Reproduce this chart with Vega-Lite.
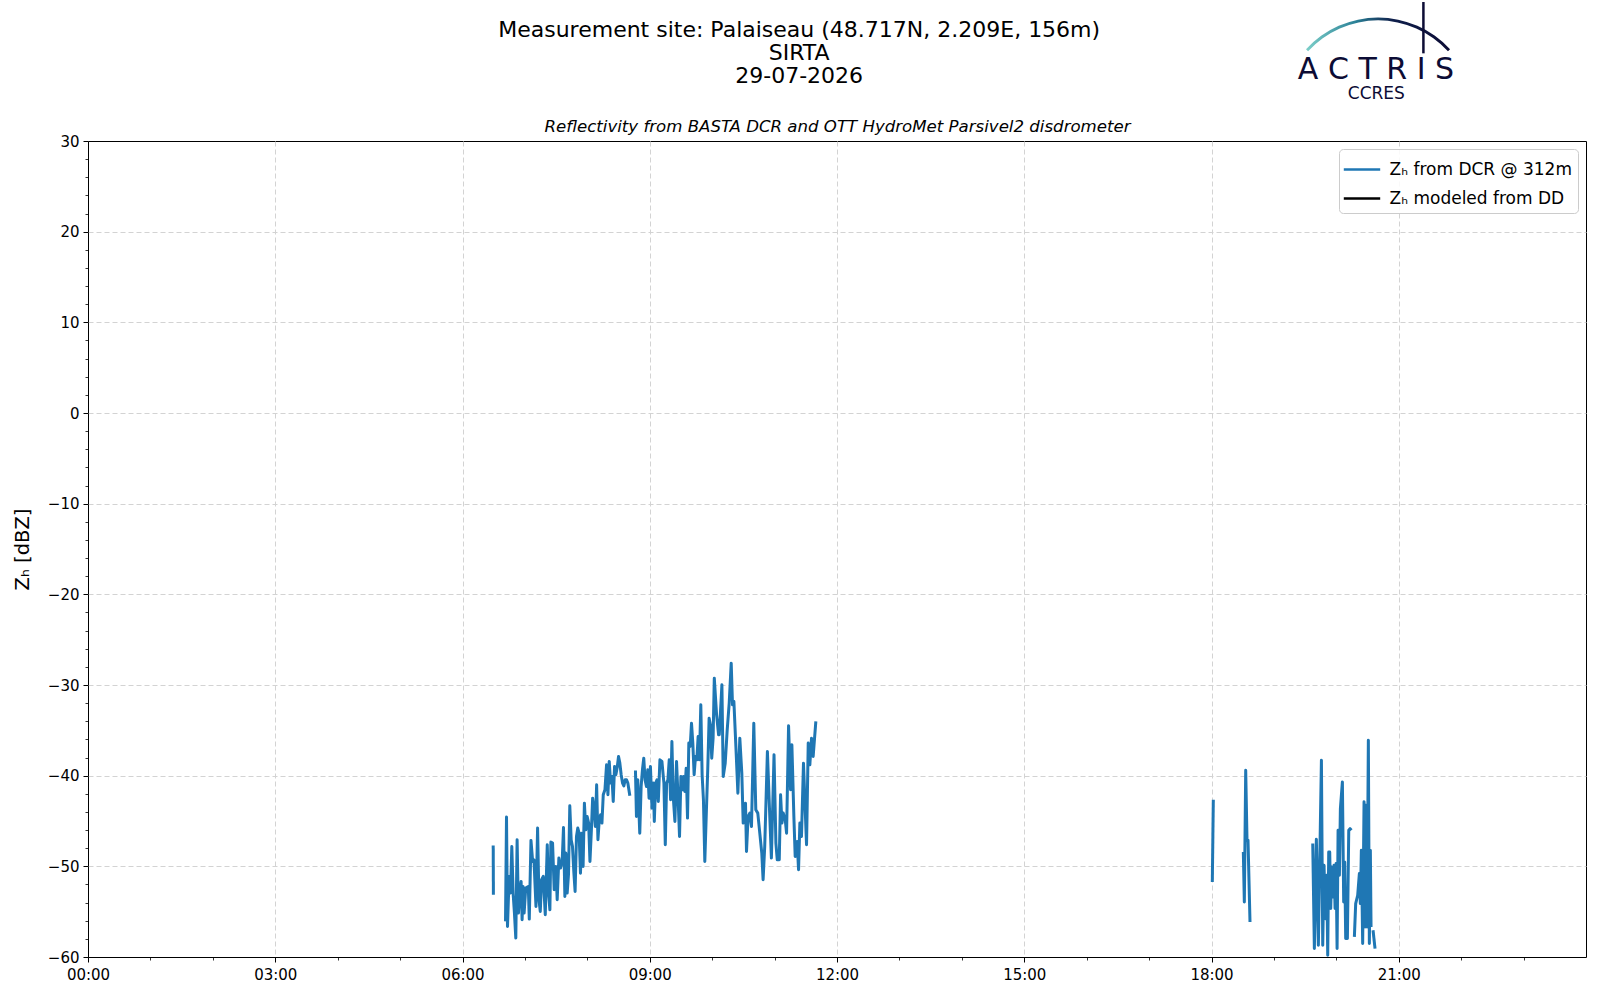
{
  "$schema": "https://vega.github.io/schema/vega-lite/v6.json",
  "width": 1498,
  "height": 816,
  "autosize": {"type": "none"},
  "padding": {"left": 88, "top": 141, "right": 14, "bottom": 43},
  "background": "white",
  "title": {
    "text": ["Measurement site: Palaiseau (48.717N, 2.209E, 156m)", "SIRTA", "29-07-2026"],
    "anchor": "middle",
    "frame": "bounds",
    "font": "DejaVu Sans",
    "fontSize": 22,
    "fontWeight": "normal",
    "lineHeight": 23,
    "color": "black",
    "offset": -87
  },
  "config": {
    "font": "DejaVu Sans",
    "view": {"stroke": "black", "strokeWidth": 1},
    "axis": {
      "labelFont": "DejaVu Sans",
      "labelFontSize": 15,
      "labelColor": "black",
      "labelFlush": false,
      "labelOverlap": false,
      "tickColor": "black",
      "tickSize": 5,
      "tickWidth": 1,
      "labelPadding": 5,
      "domain": false,
      "titleFont": "DejaVu Sans",
      "titleFontWeight": "normal",
      "titleColor": "black"
    }
  },
  "datasets": {
    "dcr": [
      {"t": 6.492, "z": -47.70, "seg": 1}, {"t": 6.495, "z": -53.13, "seg": 1},
      {"t": 6.689, "z": -56.07, "seg": 2}, {"t": 6.705, "z": -44.57, "seg": 2}, {"t": 6.721, "z": -56.63, "seg": 2},
      {"t": 6.747, "z": -51.11, "seg": 2}, {"t": 6.769, "z": -52.95, "seg": 2}, {"t": 6.790, "z": -47.81, "seg": 2},
      {"t": 6.811, "z": -52.95, "seg": 2}, {"t": 6.832, "z": -55.16, "seg": 2}, {"t": 6.854, "z": -57.91, "seg": 2},
      {"t": 6.875, "z": -47.07, "seg": 2}, {"t": 6.896, "z": -55.16, "seg": 2}, {"t": 6.917, "z": -52.95, "seg": 2},
      {"t": 6.939, "z": -51.66, "seg": 2}, {"t": 6.955, "z": -55.89, "seg": 2}, {"t": 6.971, "z": -52.22, "seg": 2},
      {"t": 6.987, "z": -55.16, "seg": 2}, {"t": 7.013, "z": -52.40, "seg": 2}, {"t": 7.054, "z": -52.22, "seg": 2},
      {"t": 7.070, "z": -55.82, "seg": 2}, {"t": 7.097, "z": -47.14, "seg": 2}, {"t": 7.124, "z": -49.46, "seg": 2},
      {"t": 7.145, "z": -49.28, "seg": 2}, {"t": 7.177, "z": -54.42, "seg": 2}, {"t": 7.203, "z": -45.78, "seg": 2},
      {"t": 7.225, "z": -53.69, "seg": 2}, {"t": 7.246, "z": -54.97, "seg": 2}, {"t": 7.267, "z": -51.48, "seg": 2},
      {"t": 7.294, "z": -51.11, "seg": 2}, {"t": 7.326, "z": -55.34, "seg": 2}, {"t": 7.358, "z": -47.62, "seg": 2},
      {"t": 7.379, "z": -52.95, "seg": 2}, {"t": 7.400, "z": -54.79, "seg": 2}, {"t": 7.416, "z": -47.33, "seg": 2},
      {"t": 7.443, "z": -47.44, "seg": 2}, {"t": 7.469, "z": -52.58, "seg": 2}, {"t": 7.496, "z": -50.01, "seg": 2},
      {"t": 7.517, "z": -53.69, "seg": 2}, {"t": 7.544, "z": -49.09, "seg": 2}, {"t": 7.570, "z": -50.19, "seg": 2},
      {"t": 7.597, "z": -49.46, "seg": 2}, {"t": 7.618, "z": -45.71, "seg": 2}, {"t": 7.640, "z": -53.32, "seg": 2},
      {"t": 7.655, "z": -48.54, "seg": 2}, {"t": 7.677, "z": -52.95, "seg": 2}, {"t": 7.698, "z": -50.93, "seg": 2},
      {"t": 7.719, "z": -43.32, "seg": 2}, {"t": 7.741, "z": -47.07, "seg": 2}, {"t": 7.762, "z": -47.81, "seg": 2},
      {"t": 7.783, "z": -50.56, "seg": 2}, {"t": 7.804, "z": -52.77, "seg": 2}, {"t": 7.826, "z": -46.70, "seg": 2},
      {"t": 7.847, "z": -45.78, "seg": 2}, {"t": 7.868, "z": -46.34, "seg": 2}, {"t": 7.890, "z": -50.75, "seg": 2},
      {"t": 7.911, "z": -46.34, "seg": 2}, {"t": 7.932, "z": -50.01, "seg": 2}, {"t": 7.953, "z": -43.03, "seg": 2},
      {"t": 7.975, "z": -45.97, "seg": 2}, {"t": 7.996, "z": -44.50, "seg": 2}, {"t": 8.021, "z": -45.23, "seg": 2},
      {"t": 8.042, "z": -49.46, "seg": 2}, {"t": 8.064, "z": -46.15, "seg": 2}, {"t": 8.085, "z": -42.48, "seg": 2},
      {"t": 8.106, "z": -43.58, "seg": 2}, {"t": 8.128, "z": -45.60, "seg": 2}, {"t": 8.149, "z": -41.01, "seg": 2},
      {"t": 8.170, "z": -47.07, "seg": 2}, {"t": 8.191, "z": -44.87, "seg": 2}, {"t": 8.213, "z": -44.31, "seg": 2},
      {"t": 8.234, "z": -45.23, "seg": 2}, {"t": 8.255, "z": -42.11, "seg": 2}, {"t": 8.282, "z": -41.56, "seg": 2},
      {"t": 8.308, "z": -38.80, "seg": 2}, {"t": 8.330, "z": -42.11, "seg": 2}, {"t": 8.351, "z": -38.43, "seg": 2},
      {"t": 8.372, "z": -40.82, "seg": 2}, {"t": 8.394, "z": -40.09, "seg": 2}, {"t": 8.415, "z": -42.84, "seg": 2},
      {"t": 8.436, "z": -38.99, "seg": 2}, {"t": 8.457, "z": -39.90, "seg": 2}, {"t": 8.479, "z": -39.06, "seg": 2},
      {"t": 8.500, "z": -37.88, "seg": 2}, {"t": 8.521, "z": -38.62, "seg": 2}, {"t": 8.542, "z": -39.90, "seg": 2},
      {"t": 8.564, "z": -40.82, "seg": 2}, {"t": 8.585, "z": -41.12, "seg": 2}, {"t": 8.606, "z": -40.46, "seg": 2},
      {"t": 8.628, "z": -40.46, "seg": 2}, {"t": 8.649, "z": -40.82, "seg": 2}, {"t": 8.681, "z": -42.22, "seg": 2},
      {"t": 8.771, "z": -39.43, "seg": 3}, {"t": 8.787, "z": -44.50, "seg": 3}, {"t": 8.808, "z": -40.46, "seg": 3},
      {"t": 8.840, "z": -46.34, "seg": 3}, {"t": 8.862, "z": -41.19, "seg": 3}, {"t": 8.883, "z": -39.35, "seg": 3},
      {"t": 8.904, "z": -38.07, "seg": 3}, {"t": 8.925, "z": -40.46, "seg": 3}, {"t": 8.947, "z": -41.19, "seg": 3},
      {"t": 8.968, "z": -39.35, "seg": 3}, {"t": 8.989, "z": -42.48, "seg": 3}, {"t": 9.011, "z": -38.99, "seg": 3},
      {"t": 9.036, "z": -43.58, "seg": 3}, {"t": 9.057, "z": -40.82, "seg": 3}, {"t": 9.073, "z": -45.05, "seg": 3},
      {"t": 9.094, "z": -40.82, "seg": 3}, {"t": 9.116, "z": -40.46, "seg": 3}, {"t": 9.137, "z": -42.84, "seg": 3},
      {"t": 9.163, "z": -38.25, "seg": 3}, {"t": 9.195, "z": -38.43, "seg": 3}, {"t": 9.227, "z": -40.82, "seg": 3},
      {"t": 9.249, "z": -47.62, "seg": 3}, {"t": 9.270, "z": -40.82, "seg": 3}, {"t": 9.291, "z": -40.46, "seg": 3},
      {"t": 9.312, "z": -38.25, "seg": 3}, {"t": 9.334, "z": -42.66, "seg": 3}, {"t": 9.355, "z": -36.23, "seg": 3},
      {"t": 9.376, "z": -42.29, "seg": 3}, {"t": 9.403, "z": -45.05, "seg": 3}, {"t": 9.429, "z": -38.43, "seg": 3},
      {"t": 9.456, "z": -42.84, "seg": 3}, {"t": 9.477, "z": -46.70, "seg": 3}, {"t": 9.499, "z": -40.09, "seg": 3},
      {"t": 9.520, "z": -41.56, "seg": 3}, {"t": 9.541, "z": -40.09, "seg": 3}, {"t": 9.562, "z": -41.74, "seg": 3},
      {"t": 9.584, "z": -39.17, "seg": 3}, {"t": 9.605, "z": -44.68, "seg": 3}, {"t": 9.626, "z": -36.41, "seg": 3},
      {"t": 9.648, "z": -36.78, "seg": 3}, {"t": 9.669, "z": -34.21, "seg": 3}, {"t": 9.690, "z": -36.41, "seg": 3},
      {"t": 9.711, "z": -39.90, "seg": 3}, {"t": 9.733, "z": -37.88, "seg": 3}, {"t": 9.754, "z": -38.25, "seg": 3},
      {"t": 9.775, "z": -35.68, "seg": 3}, {"t": 9.796, "z": -38.25, "seg": 3}, {"t": 9.818, "z": -32.19, "seg": 3},
      {"t": 9.839, "z": -39.90, "seg": 3}, {"t": 9.860, "z": -42.66, "seg": 3}, {"t": 9.882, "z": -49.46, "seg": 3},
      {"t": 9.908, "z": -43.76, "seg": 3}, {"t": 9.929, "z": -39.35, "seg": 3}, {"t": 9.951, "z": -33.66, "seg": 3},
      {"t": 9.972, "z": -34.39, "seg": 3}, {"t": 9.993, "z": -38.07, "seg": 3}, {"t": 10.015, "z": -35.86, "seg": 3},
      {"t": 10.034, "z": -29.25, "seg": 3}, {"t": 10.071, "z": -33.29, "seg": 3}, {"t": 10.103, "z": -35.49, "seg": 3},
      {"t": 10.114, "z": -35.49, "seg": 3}, {"t": 10.156, "z": -29.98, "seg": 3}, {"t": 10.177, "z": -40.09, "seg": 3},
      {"t": 10.209, "z": -38.62, "seg": 3}, {"t": 10.241, "z": -34.94, "seg": 3}, {"t": 10.273, "z": -32.00, "seg": 3},
      {"t": 10.305, "z": -27.59, "seg": 3}, {"t": 10.326, "z": -32.19, "seg": 3}, {"t": 10.348, "z": -31.82, "seg": 3},
      {"t": 10.380, "z": -36.78, "seg": 3}, {"t": 10.412, "z": -41.93, "seg": 3}, {"t": 10.443, "z": -35.86, "seg": 3},
      {"t": 10.475, "z": -39.72, "seg": 3}, {"t": 10.497, "z": -45.23, "seg": 3}, {"t": 10.534, "z": -43.03, "seg": 3},
      {"t": 10.550, "z": -48.36, "seg": 3}, {"t": 10.576, "z": -44.50, "seg": 3}, {"t": 10.603, "z": -44.13, "seg": 3},
      {"t": 10.630, "z": -45.60, "seg": 3}, {"t": 10.667, "z": -34.21, "seg": 3}, {"t": 10.699, "z": -43.76, "seg": 3},
      {"t": 10.731, "z": -44.13, "seg": 3}, {"t": 10.763, "z": -46.34, "seg": 3}, {"t": 10.795, "z": -48.54, "seg": 3},
      {"t": 10.816, "z": -51.48, "seg": 3}, {"t": 10.842, "z": -47.81, "seg": 3}, {"t": 10.885, "z": -37.33, "seg": 3},
      {"t": 10.917, "z": -43.40, "seg": 3}, {"t": 10.949, "z": -49.09, "seg": 3}, {"t": 10.991, "z": -37.70, "seg": 3},
      {"t": 11.021, "z": -47.44, "seg": 3}, {"t": 11.043, "z": -49.28, "seg": 3}, {"t": 11.075, "z": -49.28, "seg": 3},
      {"t": 11.096, "z": -42.11, "seg": 3}, {"t": 11.118, "z": -45.23, "seg": 3}, {"t": 11.139, "z": -44.13, "seg": 3},
      {"t": 11.171, "z": -44.87, "seg": 3}, {"t": 11.192, "z": -46.34, "seg": 3}, {"t": 11.224, "z": -34.50, "seg": 3},
      {"t": 11.256, "z": -41.56, "seg": 3}, {"t": 11.277, "z": -36.60, "seg": 3}, {"t": 11.309, "z": -44.50, "seg": 3},
      {"t": 11.330, "z": -48.91, "seg": 3}, {"t": 11.362, "z": -47.25, "seg": 3}, {"t": 11.384, "z": -50.38, "seg": 3},
      {"t": 11.405, "z": -45.23, "seg": 3}, {"t": 11.431, "z": -46.70, "seg": 3}, {"t": 11.463, "z": -38.62, "seg": 3},
      {"t": 11.512, "z": -47.62, "seg": 3}, {"t": 11.539, "z": -36.41, "seg": 3}, {"t": 11.565, "z": -38.80, "seg": 3},
      {"t": 11.592, "z": -35.86, "seg": 3}, {"t": 11.618, "z": -37.88, "seg": 3}, {"t": 11.661, "z": -34.02, "seg": 3},
      {"t": 18.013, "z": -51.73, "seg": 4}, {"t": 18.029, "z": -42.65, "seg": 4},
      {"t": 18.510, "z": -48.42, "seg": 5}, {"t": 18.526, "z": -53.93, "seg": 5}, {"t": 18.548, "z": -39.41, "seg": 5},
      {"t": 18.569, "z": -47.13, "seg": 5}, {"t": 18.585, "z": -47.13, "seg": 5}, {"t": 18.617, "z": -56.14, "seg": 5},
      {"t": 19.622, "z": -47.49, "seg": 6}, {"t": 19.648, "z": -59.07, "seg": 6}, {"t": 19.680, "z": -47.02, "seg": 6},
      {"t": 19.712, "z": -58.71, "seg": 6}, {"t": 19.761, "z": -38.30, "seg": 6}, {"t": 19.782, "z": -58.71, "seg": 6},
      {"t": 19.803, "z": -49.88, "seg": 6}, {"t": 19.825, "z": -55.77, "seg": 6}, {"t": 19.846, "z": -50.99, "seg": 6},
      {"t": 19.862, "z": -59.81, "seg": 6}, {"t": 19.878, "z": -48.41, "seg": 6}, {"t": 19.894, "z": -48.41, "seg": 6},
      {"t": 19.910, "z": -54.66, "seg": 6}, {"t": 19.926, "z": -50.07, "seg": 6}, {"t": 19.947, "z": -53.38, "seg": 6},
      {"t": 19.963, "z": -49.88, "seg": 6}, {"t": 19.980, "z": -54.66, "seg": 6}, {"t": 19.996, "z": -49.70, "seg": 6},
      {"t": 20.012, "z": -59.07, "seg": 6}, {"t": 20.028, "z": -46.02, "seg": 6}, {"t": 20.049, "z": -50.99, "seg": 6},
      {"t": 20.065, "z": -43.63, "seg": 6}, {"t": 20.097, "z": -40.69, "seg": 6}, {"t": 20.118, "z": -53.93, "seg": 6},
      {"t": 20.134, "z": -49.52, "seg": 6}, {"t": 20.150, "z": -57.97, "seg": 6}, {"t": 20.177, "z": -57.97, "seg": 6},
      {"t": 20.199, "z": -46.02, "seg": 6}, {"t": 20.220, "z": -45.84, "seg": 6}, {"t": 20.241, "z": -46.02, "seg": 6},
      {"t": 20.289, "z": -57.78, "seg": 7}, {"t": 20.310, "z": -54.11, "seg": 7}, {"t": 20.342, "z": -53.19, "seg": 7},
      {"t": 20.369, "z": -50.80, "seg": 7}, {"t": 20.385, "z": -54.11, "seg": 7}, {"t": 20.401, "z": -48.22, "seg": 7},
      {"t": 20.422, "z": -58.52, "seg": 7}, {"t": 20.444, "z": -42.89, "seg": 7}, {"t": 20.460, "z": -56.68, "seg": 7},
      {"t": 20.476, "z": -43.26, "seg": 7}, {"t": 20.492, "z": -56.68, "seg": 7}, {"t": 20.513, "z": -36.09, "seg": 7},
      {"t": 20.529, "z": -58.52, "seg": 7}, {"t": 20.545, "z": -48.22, "seg": 7}, {"t": 20.556, "z": -56.68, "seg": 7},
      {"t": 20.588, "z": -57.05, "seg": 8}, {"t": 20.620, "z": -59.07, "seg": 8}
    ]
  },
  "resolve": {"axis": {"x": "independent", "y": "independent"}},
  "layer": [
    {
      "data": {"values": [{}]},
      "mark": {"type": "point", "opacity": 0},
      "encoding": {
        "x": {
          "datum": 0,
          "type": "quantitative",
          "scale": {"domain": [0, 24], "nice": false, "zero": false},
          "axis": {
            "orient": "bottom",
            "values": [3, 6, 9, 12, 15, 18, 21],
            "labels": false,
            "ticks": false,
            "grid": true,
            "gridColor": "#d3d3d3",
            "gridDash": [5, 3],
            "title": null
          }
        },
        "y": {
          "datum": -60,
          "type": "quantitative",
          "scale": {"domain": [-60, 30], "nice": false, "zero": false},
          "axis": {
            "orient": "left",
            "values": [-50, -40, -30, -20, -10, 0, 10, 20],
            "labels": false,
            "ticks": false,
            "grid": true,
            "gridColor": "#d3d3d3",
            "gridDash": [5, 3],
            "title": null
          }
        }
      }
    },
    {
      "data": {"name": "dcr"},
      "mark": {"type": "line", "strokeWidth": 3, "strokeJoin": "round"},
      "encoding": {
        "x": {
          "field": "t",
          "type": "quantitative",
          "scale": {"domain": [0, 24], "nice": false, "zero": false},
          "axis": {
            "orient": "bottom",
            "values": [0, 3, 6, 9, 12, 15, 18, 21],
            "labelExpr": "(datum.value < 10 ? '0' : '') + datum.value + ':00'",
            "grid": false,
            "title": null
          }
        },
        "y": {
          "field": "z",
          "type": "quantitative",
          "scale": {"domain": [-60, 30], "nice": false, "zero": false},
          "axis": {
            "orient": "left",
            "values": [-60, -50, -40, -30, -20, -10, 0, 10, 20, 30],
            "format": "d",
            "labelPadding": 4,
            "grid": false,
            "title": "Zₕ [dBZ]",
            "titleFontSize": 19.5,
            "titlePadding": 15
          }
        },
        "detail": {"field": "seg", "type": "nominal"},
        "color": {
          "datum": "Zₕ from DCR @ 312m",
          "type": "nominal",
          "scale": {
            "domain": ["Zₕ from DCR @ 312m", "Zₕ modeled from DD"],
            "range": ["#1f77b4", "black"]
          },
          "legend": {
            "title": null,
            "orient": "top-right",
            "offset": 8,
            "symbolType": "M-1.4,0H1.4",
            "symbolSize": 676,
            "symbolStrokeWidth": 2.6,
            "symbolOffset": 2.5,
            "labelFont": "DejaVu Sans",
            "labelFontSize": 17,
            "labelColor": "black",
            "labelOffset": 13,
            "labelLimit": 400,
            "fillColor": "rgba(255,255,255,0.85)",
            "strokeColor": "#cccccc",
            "cornerRadius": 4,
            "padding": 6,
            "rowPadding": 6
          }
        }
      }
    },
    {
      "data": {"values": [{}]},
      "mark": {"type": "point", "opacity": 0},
      "encoding": {
        "x": {
          "datum": 0,
          "type": "quantitative",
          "scale": {"domain": [0, 24], "nice": false, "zero": false},
          "axis": {
            "orient": "bottom",
            "values": [1, 2, 4, 5, 7, 8, 10, 11, 13, 14, 16, 17, 19, 20, 22, 23],
            "labels": false,
            "grid": false,
            "tickSize": 3,
            "tickWidth": 0.8,
            "title": null
          }
        },
        "y": {
          "datum": -60,
          "type": "quantitative",
          "scale": {"domain": [-60, 30], "nice": false, "zero": false},
          "axis": {
            "orient": "left",
            "values": [-58, -56, -54, -52, -48, -46, -44, -42, -38, -36, -34, -32, -28, -26, -24, -22, -18, -16, -14, -12, -8, -6, -4, -2, 2, 4, 6, 8, 12, 14, 16, 18, 22, 24, 26, 28],
            "labels": false,
            "grid": false,
            "tickSize": 3,
            "tickWidth": 0.8,
            "title": null
          }
        }
      }
    },
    {
      "data": {"values": [{}]},
      "mark": {"type": "point", "opacity": 0},
      "encoding": {
        "x": {
          "datum": 0,
          "type": "quantitative",
          "scale": {"domain": [0, 24], "nice": false, "zero": false},
          "axis": {
            "orient": "top",
            "ticks": false,
            "labels": false,
            "grid": false,
            "title": "Reflectivity from BASTA DCR and OTT HydroMet Parsivel2 disdrometer",
            "titleFontSize": 16.6,
            "titleFontStyle": "italic",
            "titlePadding": 7
          }
        },
        "y": {
          "datum": -60,
          "type": "quantitative",
          "scale": {"domain": [-60, 30], "nice": false, "zero": false},
          "axis": null
        }
      }
    },
    {
      "data": {"values": [{}]},
      "mark": {
        "type": "arc",
        "theta": -0.83,
        "theta2": 0.83,
        "radius": 97.6,
        "radius2": 94.8,
        "color": {
          "gradient": "linear",
          "x1": 0, "y1": 0, "x2": 1, "y2": 0,
          "stops": [
            {"offset": 0, "color": "#7ccfc9"},
            {"offset": 0.35, "color": "#2a8096"},
            {"offset": 0.6, "color": "#0f1f4b"},
            {"offset": 1, "color": "#0c0c35"}
          ]
        }
      },
      "encoding": {
        "x": {"datum": 20.668, "type": "quantitative", "scale": {"domain": [0, 24], "nice": false, "zero": false}, "axis": null},
        "y": {"datum": 32.85, "type": "quantitative", "scale": {"domain": [-60, 30], "nice": false, "zero": false}, "axis": null}
      }
    },
    {
      "data": {"values": [{}]},
      "mark": {"type": "rule", "color": "#0c0c35", "strokeWidth": 2.5},
      "encoding": {
        "x": {"datum": 21.395, "type": "quantitative", "scale": {"domain": [0, 24], "nice": false, "zero": false}, "axis": null},
        "y": {"datum": 45.33, "type": "quantitative", "scale": {"domain": [-60, 30], "nice": false, "zero": false}, "axis": null},
        "y2": {"datum": 39.67}
      }
    },
    {
      "data": {"values": [{}]},
      "mark": {"type": "text", "text": "A C T R I S", "font": "DejaVu Sans", "fontSize": 30, "color": "#0c0c35", "align": "center", "baseline": "alphabetic"},
      "encoding": {
        "x": {"datum": 20.635, "type": "quantitative", "scale": {"domain": [0, 24], "nice": false, "zero": false}, "axis": null},
        "y": {"datum": 36.88, "type": "quantitative", "scale": {"domain": [-60, 30], "nice": false, "zero": false}, "axis": null}
      }
    },
    {
      "data": {"values": [{}]},
      "mark": {"type": "text", "text": "CCRES", "font": "DejaVu Sans", "fontSize": 17, "color": "#0c0c35", "align": "center", "baseline": "alphabetic"},
      "encoding": {
        "x": {"datum": 20.641, "type": "quantitative", "scale": {"domain": [0, 24], "nice": false, "zero": false}, "axis": null},
        "y": {"datum": 34.6, "type": "quantitative", "scale": {"domain": [-60, 30], "nice": false, "zero": false}, "axis": null}
      }
    }
  ]
}
